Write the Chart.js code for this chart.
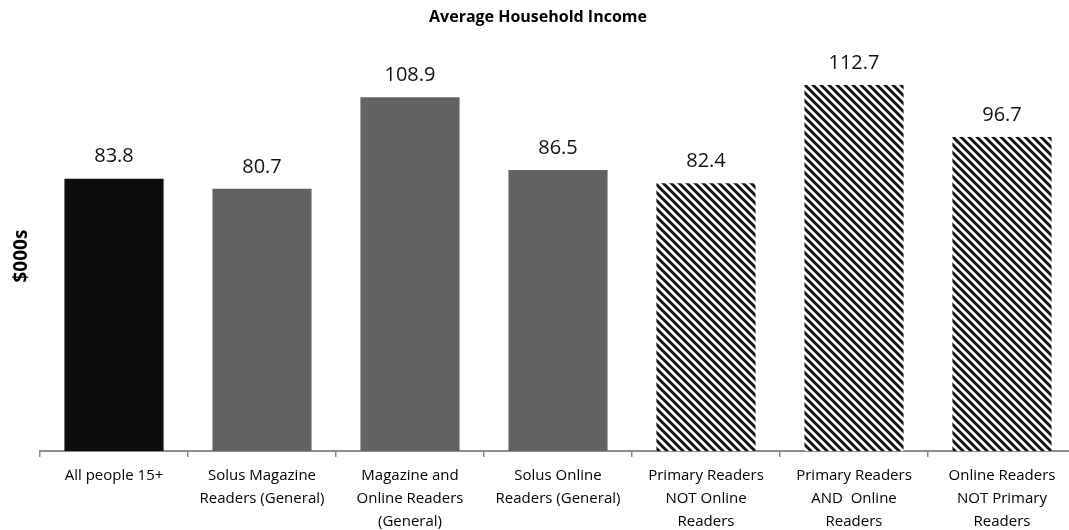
<!DOCTYPE html>
<html>
<head>
<meta charset="utf-8">
<script src="https://cdn.jsdelivr.net/npm/chart.js@4.4.1/dist/chart.umd.min.js"></script>
<style>
  html, body { margin: 0; padding: 0; background: #fff; overflow: hidden; }
  #wrap { width: 1076px; height: 530px; position: relative; }
</style>
</head>
<body>
<div id="wrap"><canvas id="income"></canvas></div>
<script>
const categories = [
  ['All people 15+'],
  ['Solus Magazine', 'Readers (General)'],
  ['Magazine and', 'Online Readers', '(General)'],
  ['Solus Online', 'Readers (General)'],
  ['Primary Readers', 'NOT Online', 'Readers'],
  ['Primary Readers', 'AND  Online', 'Readers'],
  ['Online Readers', 'NOT Primary', 'Readers']
]
const incomes = [83.8, 80.7, 108.9, 86.5, 82.4, 112.7, 96.7]
const barKinds = ['solid', 'grey', 'grey', 'grey', 'hatch', 'hatch', 'hatch']

// diagonal black/white stripes for the last three bars
function makeHatch() {
  const size = 8
  const c = document.createElement('canvas')
  c.width = size
  c.height = size
  const g = c.getContext('2d')
  g.fillStyle = '#fff'
  g.fillRect(0, 0, size, size)
  g.strokeStyle = '#151515'
  g.lineWidth = 3
  g.beginPath()
  g.moveTo(-2, -2); g.lineTo(size + 2, size + 2)
  g.moveTo(-2, size - 2); g.lineTo(2, size + 2)
  g.moveTo(size - 2, -2); g.lineTo(size + 2, 2)
  g.stroke()
  return g.createPattern(c, 'repeat')
}

const ctx = document.getElementById('income').getContext('2d')
const hatch = makeHatch()
const colours = barKinds.map(k => k === 'solid' ? '#0d0d0d' : k === 'grey' ? '#636363' : hatch)

const valueLabels = {
  id: 'valueLabels',
  afterDatasetsDraw(chart) {
    const c = chart.ctx
    const meta = chart.getDatasetMeta(0)
    c.save()
    c.font = '20px "Open Sans"'
    c.fillStyle = '#111'
    c.textAlign = 'center'
    c.textBaseline = 'middle'
    meta.data.forEach((bar, i) => {
      c.fillText(incomes[i].toFixed(1), bar.x, bar.y - 22)
    })
    c.restore()
  }
}

new Chart(ctx, {
  type: 'bar',
  data: {
    labels: categories,
    datasets: [{
      label: 'Average Household Income',
      data: incomes,
      backgroundColor: colours,
      borderWidth: 0,
      categoryPercentage: 1,
      barPercentage: 0.67
    }]
  },
  options: {
    responsive: true,
    maintainAspectRatio: false,
    animation: false,
    layout: { padding: 0 },
    plugins: {
      legend: { display: false },
      tooltip: { enabled: false },
      title: {
        display: true,
        text: 'Average Household Income',
        color: '#000',
        font: { family: '"Open Sans"', size: 16, weight: 'bold' },
        padding: { top: 8, bottom: 34 }
      }
    },
    scales: {
      x: {
        grid: {
          display: true,
          drawOnChartArea: false,
          drawTicks: true,
          tickLength: 6,
          color: '#8c8c8c',
          lineWidth: 1.5
        },
        border: { display: true, color: '#8c8c8c', width: 2 },
        ticks: {
          color: '#000',
          maxRotation: 0,
          autoSkip: false,
          padding: 7,
          font: { family: '"Open Sans"', size: 15, lineHeight: 1.53 }
        },
        afterFit(scale) { scale.height = 79 }
      },
      y: {
        min: 0,
        max: 120,
        grid: { display: false, drawTicks: false },
        border: { display: false },
        ticks: { display: false },
        title: {
          display: true,
          text: '$000s',
          color: '#000',
          font: { family: '"Open Sans"', size: 19, weight: 'bold' },
          padding: { top: 10, bottom: 6 }
        },
        afterFit(scale) { scale.width = 40 }
      }
    }
  },
  plugins: [valueLabels]
})
</script>
</body>
</html>
